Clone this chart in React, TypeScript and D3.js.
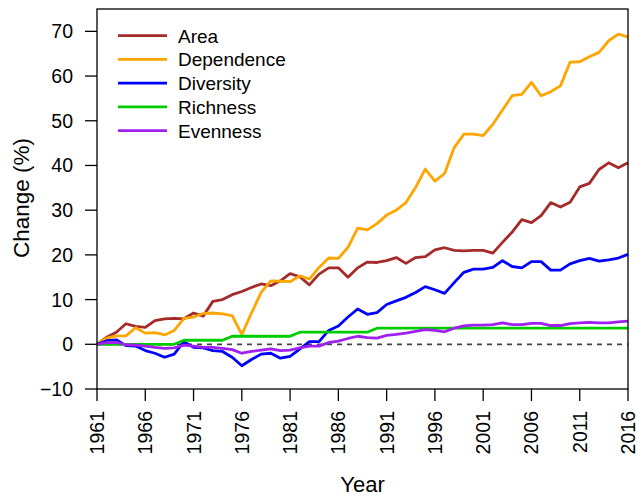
import * as d3 from 'd3';

const years = d3.range(1961, 2017);

const area = [
  0, 1.6, 2.7, 4.6, 4.0, 3.8, 5.3, 5.7, 5.8, 5.7,
  7.0, 6.3, 9.6, 10.0, 11.1, 11.8, 12.7, 13.5, 13.1, 14.2,
  15.8, 15.1, 13.3, 15.7, 17.1, 17.1, 15.0, 17.1, 18.4, 18.3,
  18.7, 19.4, 18.1, 19.4, 19.6, 21.1, 21.6, 21.0, 20.9, 21.0,
  21.0, 20.4, 22.8, 25.1, 27.9, 27.2, 28.8, 31.7, 30.7, 31.8,
  35.2, 36.0, 39.1, 40.6, 39.5, 40.6,
];

const dependence = [
  0, 1.4, 1.9, 1.9, 3.7, 2.5, 2.6, 2.1, 3.1, 5.8,
  6.1, 6.9, 7.0, 6.8, 6.4, 2.2, 7.0, 11.6, 14.2, 14.1,
  14.0, 15.3, 14.6, 17.2, 19.3, 19.2, 21.7, 26.0, 25.6, 27.0,
  28.9, 30.0, 31.7, 35.1, 39.2, 36.5, 38.2, 44.0, 47.0, 47.0,
  46.7, 49.2, 52.4, 55.6, 55.9, 58.6, 55.6, 56.5, 57.8, 63.1,
  63.2, 64.3, 65.3, 67.9, 69.4, 68.7,
];

const diversity = [
  0, 0.8, 1.0, -0.3, -0.4, -1.4, -2.0, -2.9, -2.2, 0.6,
  -0.7, -0.8, -1.4, -1.6, -2.9, -4.8, -3.4, -2.2, -2.0, -3.1,
  -2.7, -1.1, 0.6, 0.6, 3.1, 4.1, 6.1, 7.9, 6.7, 7.1,
  8.9, 9.7, 10.5, 11.6, 12.9, 12.2, 11.4, 13.8, 16.1, 16.8,
  16.8, 17.2, 18.7, 17.4, 17.1, 18.5, 18.5, 16.6, 16.6, 18.0,
  18.7, 19.2, 18.6, 18.9, 19.3, 20.1,
];

const richness = [
  0, 0, 0, 0, 0, 0, 0, 0, 0, 0.9,
  0.9, 0.9, 0.9, 0.9, 1.8, 1.8, 1.8, 1.8, 1.8, 1.8,
  1.8, 2.7, 2.7, 2.7, 2.7, 2.7, 2.7, 2.7, 2.7, 3.6,
  3.6, 3.6, 3.6, 3.6, 3.6, 3.6, 3.6, 3.6, 3.6, 3.6,
  3.6, 3.6, 3.6, 3.6, 3.6, 3.6, 3.6, 3.6, 3.6, 3.6,
  3.6, 3.6, 3.6, 3.6, 3.6, 3.6,
];

const evenness = [
  0, 0.4, 0.4, -0.1, -0.2, -0.4, -0.7, -0.9, -0.8, -0.2,
  -0.4, -0.7, -0.7, -0.9, -1.2, -2.0, -1.6, -1.3, -1.0, -1.4,
  -1.3, -0.8, -0.4, -0.4, 0.4, 0.7, 1.3, 1.8, 1.5, 1.4,
  2.0, 2.2, 2.5, 2.9, 3.3, 3.1, 2.8, 3.6, 4.1, 4.3,
  4.3, 4.4, 4.8, 4.4, 4.4, 4.7, 4.7, 4.2, 4.2, 4.6,
  4.8, 4.9, 4.8, 4.8, 5.0, 5.2,
];

const seriesNames = ['Area', 'Dependence', 'Diversity', 'Richness', 'Evenness'];
const seriesValues = [area, dependence, diversity, richness, evenness];
const seriesColors = ['#A52A2A', '#FFA500', '#0000FF', '#00CD00', '#A020F0'];

const xTicks = d3.range(1961, 2017, 5);
const yTicks = d3.range(-10, 71, 10);

const W = 637;
const H = 498;
const left = 97, right = 628, top = 9, bottom = 389;
const font = 'Liberation Sans, Arial, Helvetica, sans-serif';

export default function App() {
  const x = d3.scaleLinear().domain([1961, 2016]).range([left, right]);
  const y = d3.scaleLinear().domain([-10, 75]).range([bottom, top]);

  const line = d3.line<[number, number]>()
    .x(d => x(d[0]))
    .y(d => y(d[1]));

  return (
    <svg width={W} height={H} style={{ position: 'absolute', left: 0, top: 0, background: '#fff' }}
      fontFamily={font}>
      {/* zero reference */}
      <line x1={left} x2={right} y1={y(0)} y2={y(0)} stroke="#444" strokeWidth={1.8} strokeDasharray="5,5" />

      {seriesValues.map((vals, i) => (
        <path
          key={seriesNames[i]}
          d={line(years.map((yr, j) => [yr, vals[j]] as [number, number])) || ''}
          fill="none"
          stroke={seriesColors[i]}
          strokeWidth={2.8}
          strokeLinejoin="round"
        />
      ))}

      <rect x={left} y={top} width={right - left} height={bottom - top} fill="none" stroke="#000" strokeWidth={1.3} />

      {/* y axis */}
      {yTicks.map(t => (
        <g key={t}>
          <line x1={left - 12} x2={left} y1={y(t)} y2={y(t)} stroke="#000" strokeWidth={1.3} />
          <text x={73} y={y(t)} dy="0.36em" textAnchor="end" fontSize={19.5}>
            {t < 0 ? `\u2212${Math.abs(t)}` : t}
          </text>
        </g>
      ))}

      {/* x axis */}
      {xTicks.map(t => (
        <g key={t}>
          <line x1={x(t)} x2={x(t)} y1={bottom} y2={bottom + 12} stroke="#000" strokeWidth={1.3} />
          <text transform={`translate(${x(t)},${411}) rotate(-90)`} dy="0.36em" textAnchor="end" fontSize={19.5}>
            {t}
          </text>
        </g>
      ))}

      <text x={(left + right) / 2} y={492} textAnchor="middle" fontSize={22}>Year</text>
      <text transform={`translate(28.5,198) rotate(-90)`} textAnchor="middle" fontSize={22.5}>Change (%)</text>

      {/* legend */}
      {seriesNames.map((name, i) => (
        <g key={name} transform={`translate(0,${35.7 + i * 23.75})`}>
          <line x1={118} x2={167} y1={0} y2={0} stroke={seriesColors[i]} strokeWidth={2.8} />
          <text x={178} y={0} dy="0.36em" fontSize={19}>{name}</text>
        </g>
      ))}
    </svg>
  );
}
